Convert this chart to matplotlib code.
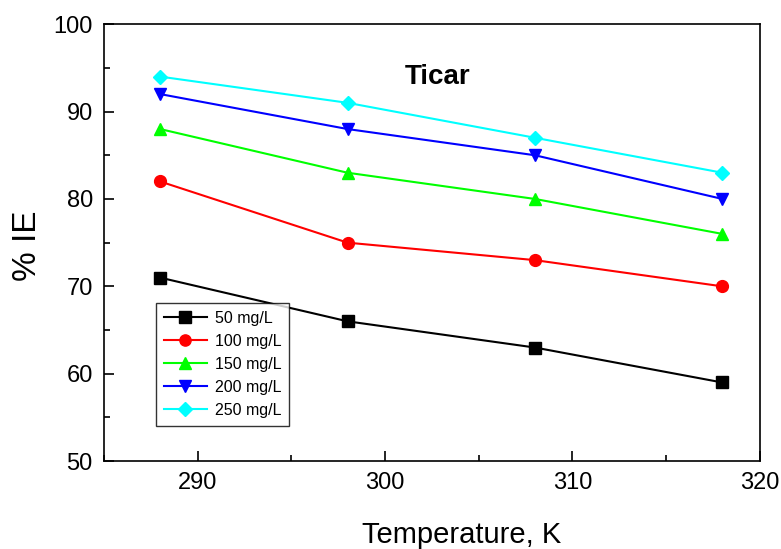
import matplotlib
matplotlib.use("Agg")
import matplotlib.pyplot as plt
from matplotlib.ticker import MultipleLocator

plt.rcParams['font.family'] = ['Liberation Sans', 'DejaVu Sans']

# temperatures (K) and inhibition efficiency (%) per concentration
temps = [288, 298, 308, 318]
ie_50 = [71, 66, 63, 59]
ie_100 = [82, 75, 73, 70]
ie_150 = [88, 83, 80, 76]
ie_200 = [92, 88, 85, 80]
ie_250 = [94, 91, 87, 83]

series = [
    ('50 mg/L', ie_50, 'black', 's'),
    ('100 mg/L', ie_100, 'red', 'o'),
    ('150 mg/L', ie_150, '#00ff00', '^'),
    ('200 mg/L', ie_200, 'blue', 'v'),
    ('250 mg/L', ie_250, 'cyan', 'D'),
]

fig = plt.figure(figsize=(7.81, 5.49), dpi=100)
ax = fig.add_axes([0.133, 0.160, 0.840, 0.796])

for label, vals, col, mk in series:
    ms = 7.5 if mk == 'D' else 8.5
    ax.plot(temps, vals, color=col, marker=mk, markersize=ms, linewidth=1.5, label=label)

ax.set_xlim(285, 320)
ax.set_ylim(50, 100)
ax.xaxis.set_major_locator(MultipleLocator(10))
ax.xaxis.set_minor_locator(MultipleLocator(5))
ax.yaxis.set_major_locator(MultipleLocator(10))
ax.yaxis.set_minor_locator(MultipleLocator(5))
ax.tick_params(which='both', direction='in', labelsize=17, width=1.2, pad=8)
ax.tick_params(which='major', length=7)
ax.tick_params(which='minor', length=4)
for sp in ax.spines.values():
    sp.set_linewidth(1.2)

ax.set_xlabel('Temperature, K', fontsize=21)
ax.set_ylabel('% IE', fontsize=24)
ax.xaxis.set_label_coords(0.546, -0.137)
ax.yaxis.set_label_coords(-0.093, 0.494)

ax.text(302.8, 93.9, 'Ticar', fontsize=20, fontweight='bold', ha='center', va='center')

leg = ax.legend(loc='upper left', bbox_to_anchor=(0.079, 0.362), fontsize=11.5,
                frameon=True, fancybox=False, edgecolor='black', borderpad=0.5,
                labelspacing=0.5, handlelength=2.7, handletextpad=0.5,
                borderaxespad=0, markerscale=0.95)
leg.get_frame().set_linewidth(1.0)

fig.savefig('out.png', dpi=100)
